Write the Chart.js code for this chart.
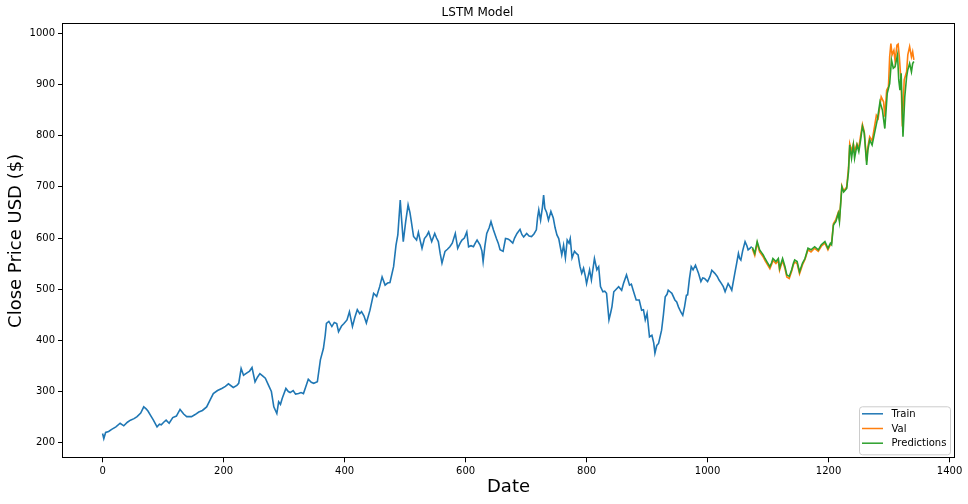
<!DOCTYPE html>
<html>
<head>
<meta charset="utf-8">
<title>LSTM Model</title>
<script src="https://cdn.jsdelivr.net/npm/chart.js@4"></script>
<style>
  html, body { margin: 0; padding: 0; background: #fff; }
  canvas { display: block; }
</style>
</head>
<body>
<canvas id="lstmChart" width="968" height="504"></canvas>
<script>
// Close price: training part, validation part and the model's predictions.
// Each entry is [day index, close price in USD].

const trainSeries = [
  [0, 218], [2, 208], [5, 220], [10, 222], [15, 226], [22, 231], [29, 238], [35, 233], [41, 240], [46, 244],
  [52, 247], [57, 251], [63, 258], [68, 270], [72, 266], [75, 262], [80, 252], [84, 244], [90, 231], [94, 236],
  [97, 235], [101, 240], [105, 244], [110, 238], [116, 249], [122, 252], [128, 265], [134, 256], [139, 251], [147, 251],
  [153, 255], [159, 260], [165, 263], [172, 270], [178, 284], [183, 296], [190, 302], [197, 306], [203, 310], [208, 315],
  [216, 308], [222, 312], [225, 316], [229, 345], [233, 332], [238, 336], [243, 340], [247, 347], [252, 319], [256, 328],
  [260, 335], [265, 330], [269, 326], [274, 313], [279, 300], [283, 270], [288, 257], [291, 280], [294, 275], [297, 287],
  [303, 306], [307, 300], [310, 298], [315, 302], [319, 295], [324, 296], [328, 298], [332, 296], [336, 310], [340, 324],
  [345, 318], [349, 316], [355, 319], [360, 362], [365, 384], [368, 410], [370, 433], [374, 437], [379, 427], [383, 435],
  [387, 433], [390, 417], [395, 428], [399, 433], [404, 440], [408, 456], [413, 427], [417, 445], [421, 460], [425, 452],
  [428, 456], [432, 448], [436, 434], [442, 459], [448, 492], [453, 486], [458, 505], [462, 524], [467, 508], [471, 512],
  [475, 513], [481, 544], [485, 586], [488, 606], [492, 674], [494, 640], [497, 593], [501, 632], [505, 665], [508, 650],
  [510, 635], [514, 603], [519, 596], [522, 611], [525, 595], [528, 580], [532, 599], [536, 605], [539, 612], [544, 593],
  [549, 609], [552, 600], [555, 593], [558, 570], [561, 551], [566, 574], [570, 578], [574, 583], [578, 590], [583, 609],
  [587, 580], [591, 590], [594, 596], [598, 600], [602, 612], [605, 583], [609, 585], [613, 583], [616, 590], [619, 596],
  [624, 586], [627, 575], [629, 554], [632, 585], [635, 609], [639, 620], [642, 632], [646, 616], [651, 599], [654, 590],
  [657, 577], [662, 574], [666, 599], [670, 598], [673, 596], [678, 590], [681, 600], [685, 609], [690, 617], [693, 607],
  [696, 602], [701, 609], [705, 604], [709, 603], [713, 608], [717, 616], [719, 640], [721, 655], [724, 635], [727, 660],
  [729, 684], [731, 658], [734, 650], [737, 635], [741, 652], [745, 639], [748, 620], [751, 606], [754, 599], [757, 580],
  [759, 567], [762, 586], [765, 561], [768, 596], [771, 590], [773, 599], [776, 561], [780, 574], [783, 570], [786, 567],
  [789, 545], [792, 531], [795, 541], [798, 525], [800, 511], [805, 538], [808, 518], [813, 560], [817, 538], [820, 544],
  [823, 505], [827, 495], [830, 496], [833, 492], [837, 440], [840, 455], [842, 466], [845, 495], [849, 500], [853, 505],
  [858, 498], [861, 511], [866, 528], [871, 508], [874, 510], [877, 498], [882, 479], [887, 479], [891, 459], [894, 460],
  [897, 440], [900, 453], [904, 407], [908, 410], [911, 395], [913, 375], [916, 390], [919, 394], [924, 420], [927, 450],
  [930, 485], [933, 490], [935, 498], [938, 495], [941, 492], [946, 479], [949, 475], [952, 465], [956, 455], [959, 449],
  [962, 466], [965, 488], [967, 489], [970, 520], [973, 544], [976, 538], [980, 547], [985, 531], [989, 515], [992, 522],
  [995, 521], [1000, 515], [1004, 525], [1007, 537], [1012, 531], [1016, 525], [1019, 518], [1023, 511], [1026, 505], [1029, 495],
  [1034, 511], [1037, 505], [1040, 498], [1045, 531], [1048, 550], [1051, 570], [1053, 560], [1055, 557], [1058, 575], [1062, 593],
  [1065, 585], [1067, 577], [1070, 580], [1073, 583]
];

const valSeries = [
  [1074, 579], [1078, 566], [1082, 590], [1086, 573], [1089, 568], [1092, 563], [1095, 556], [1098, 550], [1103, 540], [1106, 549],
  [1108, 556], [1113, 550], [1117, 556], [1119, 537], [1124, 556], [1128, 540], [1131, 524], [1135, 521], [1139, 535], [1142, 548],
  [1144, 553], [1148, 550], [1152, 530], [1157, 548], [1161, 558], [1166, 577], [1171, 573], [1177, 580], [1183, 574], [1188, 584],
  [1194, 590], [1199, 577], [1203, 587], [1205, 590], [1208, 628], [1210, 632], [1212, 636], [1216, 650], [1218, 636], [1222, 702],
  [1225, 692], [1230, 700], [1233, 738], [1235, 784], [1238, 770], [1241, 784], [1243, 770], [1247, 784], [1250, 776], [1253, 800],
  [1256, 822], [1259, 808], [1263, 750], [1265, 778], [1268, 798], [1272, 790], [1276, 818], [1279, 840], [1282, 834], [1287, 876],
  [1291, 866], [1293, 837], [1296, 889], [1299, 896], [1301, 954], [1303, 980], [1305, 958], [1308, 967], [1310, 945], [1313, 977],
  [1315, 979], [1317, 954], [1320, 902], [1322, 818], [1325, 909], [1329, 925], [1331, 958], [1334, 974], [1337, 954], [1339, 964],
  [1341, 948]
];

const predSeries = [
  [1074, 582], [1078, 570], [1082, 593], [1086, 577], [1089, 572], [1092, 567], [1095, 560], [1098, 554], [1103, 544], [1106, 552],
  [1108, 560], [1113, 554], [1117, 560], [1119, 541], [1124, 560], [1128, 544], [1131, 528], [1135, 525], [1139, 538], [1142, 551],
  [1144, 557], [1148, 554], [1152, 534], [1157, 551], [1161, 560], [1166, 580], [1171, 577], [1177, 583], [1183, 577], [1188, 587],
  [1194, 593], [1199, 580], [1203, 590], [1205, 587], [1208, 625], [1210, 629], [1212, 632], [1216, 648], [1218, 632], [1222, 700],
  [1225, 690], [1230, 697], [1233, 730], [1235, 782], [1238, 756], [1241, 782], [1243, 756], [1247, 782], [1250, 769], [1253, 792],
  [1256, 818], [1259, 805], [1263, 743], [1265, 772], [1268, 792], [1272, 782], [1276, 805], [1281, 834], [1285, 866], [1289, 850],
  [1293, 814], [1297, 883], [1301, 902], [1304, 948], [1307, 932], [1310, 935], [1314, 958], [1316, 909], [1318, 889], [1320, 922],
  [1323, 798], [1326, 876], [1329, 915], [1331, 929], [1334, 941], [1337, 925], [1339, 941], [1341, 945]
];

const seriesNames = ['Train', 'Val', 'Predictions'];
const seriesColors = ['#1f77b4', '#ff7f0e', '#2ca02c'];

const xTicks = [0, 200, 400, 600, 800, 1000, 1200, 1400];
const yTicks = [200, 300, 400, 500, 600, 700, 800, 900, 1000];

Chart.defaults.font.family = '"DejaVu Sans", sans-serif';
Chart.defaults.color = '#000';

// matplotlib-like box around the axes plus a legend in the lower right corner
const frameAndLegend = {
  id: 'frameAndLegend',
  afterDatasetsDraw(chart) {
    const { ctx, chartArea: a } = chart;
    ctx.save();
    ctx.strokeStyle = '#000';
    ctx.lineWidth = 1;
    const l = Math.round(a.left), t = Math.round(a.top);
    ctx.strokeRect(l + 0.5, t + 0.5, Math.round(a.right) - l - 1, Math.round(a.bottom) - t - 1);

    const bw = 91, bh = 48;
    const bx = a.right - 5 - bw, by = a.bottom - 4 - bh;
    ctx.beginPath();
    ctx.roundRect(bx + 0.5, by + 0.5, bw, bh, 3);
    ctx.fillStyle = 'rgba(255,255,255,0.8)';
    ctx.fill();
    ctx.strokeStyle = '#cccccc';
    ctx.stroke();

    ctx.font = '10px "DejaVu Sans", sans-serif';
    ctx.textBaseline = 'middle';
    ctx.textAlign = 'left';
    chart.data.datasets.forEach((ds, i) => {
      const y = by + 7.5 + i * 14.7;
      ctx.beginPath();
      ctx.moveTo(bx + 3, y);
      ctx.lineTo(bx + 24, y);
      ctx.strokeStyle = ds.borderColor;
      ctx.lineWidth = 1.5;
      ctx.stroke();
      ctx.fillStyle = '#000';
      ctx.fillText(ds.label, bx + 32.5, y + 0.5);
    });
    ctx.restore();
  }
};

const toPoints = s => s.map(p => ({ x: p[0], y: p[1] }));
const plainLabel = v => String(v);

new Chart(document.getElementById('lstmChart'), {
  type: 'line',
  data: {
    datasets: [
      { label: seriesNames[0], data: toPoints(trainSeries), borderColor: seriesColors[0], order: 2 },
      { label: seriesNames[1], data: toPoints(valSeries), borderColor: seriesColors[1], order: 1 },
      { label: seriesNames[2], data: toPoints(predSeries), borderColor: seriesColors[2], order: 0 }
    ]
  },
  options: {
    responsive: false,
    animation: false,
    events: [],
    elements: {
      point: { radius: 0 },
      line: { borderWidth: 1.6, tension: 0, fill: false }
    },
    layout: { padding: { left: 0, right: 13, top: 0, bottom: 0 } },
    plugins: {
      legend: { display: false },
      tooltip: { enabled: false },
      title: {
        display: true,
        text: 'LSTM Model',
        color: '#000',
        font: { size: 12, weight: 'normal' },
        padding: { top: 6, bottom: 3 }
      }
    },
    scales: {
      x: {
        type: 'linear',
        min: -67.1,
        max: 1409,
        afterBuildTicks: s => { s.ticks = xTicks.map(v => ({ value: v })); },
        afterFit: s => { s.height = 45.7; },
        grid: { display: true, drawOnChartArea: false, drawTicks: true, tickLength: 4, color: '#000' },
        border: { display: false },
        ticks: { padding: 3, maxRotation: 0, font: { size: 10 }, color: '#000', callback: plainLabel },
        title: {
          display: true,
          text: 'Date',
          font: { size: 18 },
          color: '#000',
          padding: { top: 0, bottom: 6 }
        }
      },
      y: {
        type: 'linear',
        min: 169.5,
        max: 1019.5,
        afterBuildTicks: s => { s.ticks = yTicks.map(v => ({ value: v })); },
        afterFit: s => { s.width = 62; },
        grid: { display: true, drawOnChartArea: false, drawTicks: true, tickLength: 4, color: '#000' },
        border: { display: false },
        ticks: { padding: 3, font: { size: 10 }, color: '#000', callback: plainLabel },
        title: {
          display: true,
          text: 'Close Price USD ($)',
          font: { size: 18 },
          color: '#000',
          padding: { top: 6, bottom: 0 }
        }
      }
    }
  },
  plugins: [frameAndLegend]
});
</script>
</body>
</html>
